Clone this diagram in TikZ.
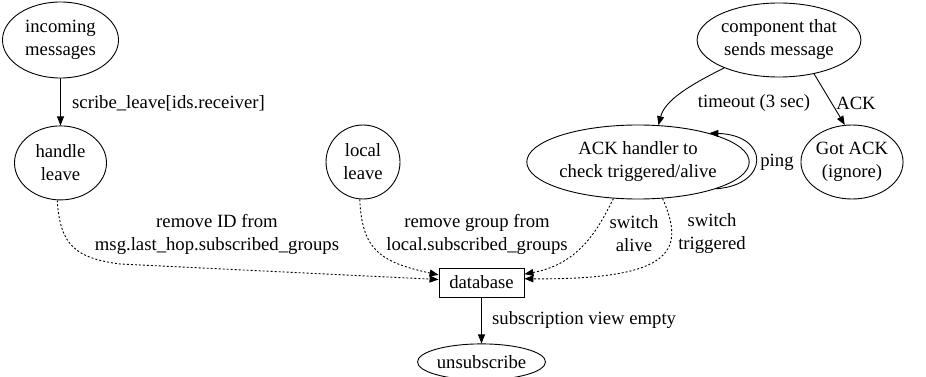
\documentclass[tikz,border=0pt]{standalone}
\usepackage{fontspec}
\setmainfont{Liberation Serif}
\usetikzlibrary{positioning,arrows.meta,shapes.geometric}

\begin{document}
\begin{tikzpicture}[x=1pt,y=-1pt,node distance=47pt,
state/.style={ellipse,draw,align=center,inner sep=0pt,line width=0.9pt,minimum height=74pt,font=\fontsize{18.7}{23}\selectfont},
store/.style={rectangle,draw,inner sep=0pt,line width=0.9pt,minimum width=85pt,minimum height=29pt,font=\fontsize{18.7}{23}\selectfont},
lbl/.style={align=center,inner sep=0pt,font=\fontsize{18.7}{23}\selectfont},
arrow/.style={-{Triangle[length=9pt,width=7pt]},line width=0.9pt},
dotarrow/.style={arrow,dash pattern=on 2pt off 2pt}]
\useasboundingbox (0,0) rectangle (926,377);
% nodes
\node[state,minimum width=116pt,minimum height=76pt] (in) at (60.5,40) {incoming\\messages};
\node[state,minimum width=92pt,below=47pt of in] (hl) {handle\\leave};
\node[state,minimum width=74pt] (ll) at (363,162) {local\\leave};
\node[state,minimum width=148pt] (cs) at (779,40) {component that\\sends message};
\node[state,minimum width=212pt] (ah) at (638,162) {ACK handler to\\check triggered/alive};
\node[state,minimum width=86pt] (ga) at (852,162) {Got ACK\\(ignore)};
\node[store] (db) at (481.5,282.5) {database};
\node[state,minimum width=128pt,minimum height=36pt,below=46pt of db] (un) {unsubscribe};
% labels
\node[lbl,anchor=west] (lscribe) at (72,103) {scribe\_leave[ids.receiver]};
\node[lbl] (lremid) at (217,234) {remove ID from\\msg.last\_hop.subscribed\_groups};
\node[lbl] (lremgrp) at (477,234) {remove group from\\local.subscribed\_groups};
\node[lbl] (lalive) at (634,234) {switch\\alive};
\node[lbl] (ltrig) at (712,234) {switch\\triggered};
\node[lbl] (ltime) at (754,103) {timeout (3 sec)};
\node[lbl] (lack) at (856,103) {ACK};
\node[lbl] (lping) at (777,162) {ping};
\node[lbl,anchor=west] (lempty) at (492,320) {subscription view empty};
% edges
\draw[arrow] (in) -- (hl);
\draw[arrow] (cs.207) .. controls (690,85) and (665,100) .. (ah.61);
\draw[arrow] (cs.316) -- (ga.101);
\draw[arrow] (ah.341) .. controls (770,185) and (770,135) .. (ah.22);
\draw[dotarrow] (hl.265) .. controls (60,245) and (75,258) .. (120,264) -- (db.176);
\draw[dotarrow] (ll.265) .. controls (362,250) and (380,262) .. (db.170);
\draw[dotarrow] (ah.236) .. controls (597,232) and (578,264) .. (db.11);
\draw[dotarrow] (ah.304) .. controls (684,248) and (678,280) .. (db.5);
\draw[arrow] (db) -- (un);
\end{tikzpicture}
\end{document}
